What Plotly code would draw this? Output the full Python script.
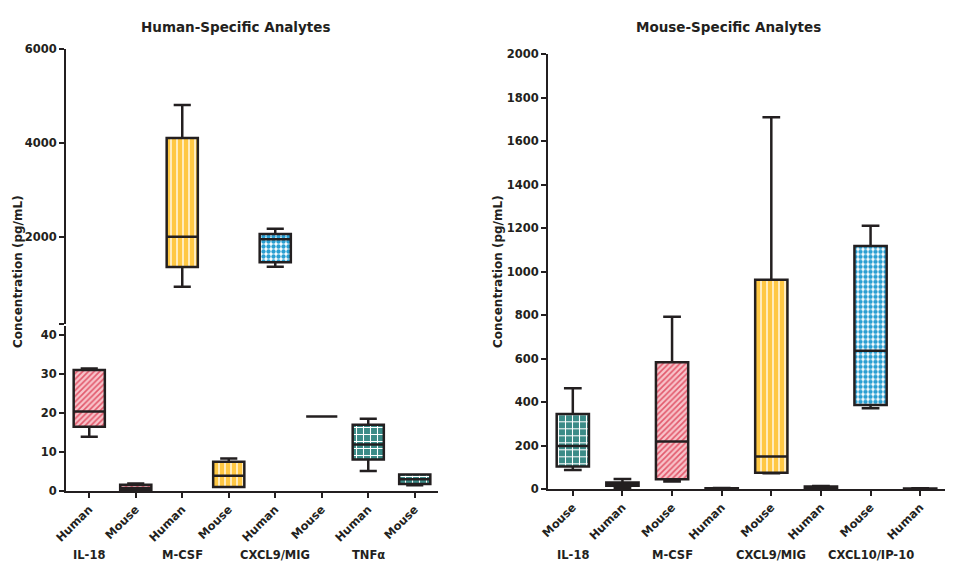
import plotly.graph_objects as go

# ---------------- data ----------------
left_labels = ["Human", "Mouse", "Human", "Mouse", "Human", "Mouse", "Human", "Mouse"]
left_analytes = ["IL-18", "IL-18", "M-CSF", "M-CSF", "CXCL9/MIG", "CXCL9/MIG", "TNFα", "TNFα"]
left_low = [13.9, 0.2, 943, 1.0, 1368, 19.1, 5.1, 1.5]
left_q1 = [16.5, 0.3, 1362, 1.0, 1462, 19.1, 8.1, 1.8]
left_med = [20.4, 0.8, 2007, 3.9, 1950, 19.1, 11.9, 3.0]
left_q3 = [31.0, 1.6, 4106, 7.5, 2064, 19.1, 17.0, 4.2]
left_high = [31.4, 1.9, 4809, 8.3, 2177, 19.1, 18.5, 4.2]
left_on_top = [False, False, True, False, True, False, False, False]

right_labels = ["Mouse", "Human", "Mouse", "Human", "Mouse", "Human", "Mouse", "Human"]
right_analytes = ["IL-18", "IL-18", "M-CSF", "M-CSF", "CXCL9/MIG", "CXCL9/MIG", "CXCL10/IP-10", "CXCL10/IP-10"]
right_low = [87, 5, 34, 1, 72, 4, 371, 1]
right_q1 = [103, 15, 45, 2, 75, 6, 386, 1.5]
right_med = [198, 22, 218, 3, 149, 9, 636, 2]
right_q3 = [345, 30, 583, 4, 963, 12, 1118, 2.5]
right_high = [463, 46, 793, 5, 1710, 14, 1211, 3]

left_groups = ["IL-18", "M-CSF", "CXCL9/MIG", "TNFα"]
right_groups = ["IL-18", "M-CSF", "CXCL9/MIG", "CXCL10/IP-10"]

left_style = {"IL-18": "pink", "M-CSF": "yellow", "CXCL9/MIG": "blue", "TNFα": "teal"}
right_style = {"IL-18": "teal", "M-CSF": "pink", "CXCL9/MIG": "yellow", "CXCL10/IP-10": "blue"}

PATTERNS = {
    "pink": dict(shape="/", bgcolor="#f8c3ca", fgcolor="#e2596c", size=4, solidity=0.4),
    "yellow": dict(shape="|", bgcolor="#ffc844", fgcolor="#ffffff", size=6, solidity=0.22),
    "blue": dict(shape=".", bgcolor="#ffffff", fgcolor="#2a9fd2", size=5, solidity=0.6),
    "teal": dict(shape="+", bgcolor="#3b8b87", fgcolor="#ffffff", size=7, solidity=0.28),
}

INK = "#231f20"
FONT = "DejaVu Sans"
BOXW_L = 0.67
BOXW_R = 0.65

fig = go.Figure()


def add_bars(idx, q1, q3, analytes, styles, xa, ya, width):
    for i in idx:
        p = PATTERNS[styles[analytes[i]]]
        fig.add_trace(go.Bar(
            x=[i], base=[q1[i]], y=[q3[i] - q1[i]],
            width=width, xaxis=xa, yaxis=ya, showlegend=False, hoverinfo="skip",
            marker=dict(
                color=p["bgcolor"], line=dict(width=0),
                pattern=dict(shape=p["shape"], fgcolor=p["fgcolor"], fgopacity=1,
                             size=p["size"], solidity=p["solidity"], fillmode="overlay"),
            ),
        ))


def add_boxes(idx, low, q1, med, q3, high, xa, ya, width):
    fig.add_trace(go.Box(
        x=idx,
        lowerfence=[low[i] for i in idx], q1=[q1[i] for i in idx],
        median=[med[i] for i in idx], q3=[q3[i] for i in idx],
        upperfence=[high[i] for i in idx],
        width=width, whiskerwidth=0.55, boxpoints=False,
        fillcolor="rgba(0,0,0,0)", line=dict(color=INK, width=2.5),
        xaxis=xa, yaxis=ya, showlegend=False, hoverinfo="skip",
    ))


n = len(left_labels)
left_bottom_idx = [i for i in range(n) if not left_on_top[i]]
left_top_idx = [i for i in range(n) if left_on_top[i]]
right_idx = list(range(len(right_labels)))

add_bars(left_bottom_idx, left_q1, left_q3, left_analytes, left_style, "x", "y", BOXW_L)
add_bars(left_top_idx, left_q1, left_q3, left_analytes, left_style, "x", "y3", BOXW_L)
add_bars(right_idx, right_q1, right_q3, right_analytes, right_style, "x2", "y2", BOXW_R)
add_boxes(left_bottom_idx, left_low, left_q1, left_med, left_q3, left_high, "x", "y", BOXW_L)
add_boxes(left_top_idx, left_low, left_q1, left_med, left_q3, left_high, "x", "y3", BOXW_L)
add_boxes(right_idx, right_low, right_q1, right_med, right_q3, right_high, "x2", "y2", BOXW_R)

W, H = 960, 580


def px_x(p):
    return p / W


def px_y(p):
    return 1 - p / H


tickfont = dict(family=FONT, size=11.5, color=INK, weight="bold")
common_axis = dict(showline=True, linecolor=INK, linewidth=2, ticks="outside",
                   tickcolor=INK, tickwidth=2, ticklen=5, showgrid=False,
                   zeroline=False, tickfont=tickfont, automargin=False)

fig.update_layout(
    width=W, height=H, margin=dict(l=0, r=0, t=0, b=0),
    paper_bgcolor="white", plot_bgcolor="white",
    barmode="overlay", boxmode="overlay", showlegend=False,
    font=dict(family=FONT, color=INK),
    xaxis=dict(common_axis, domain=[px_x(66), px_x(438)], range=[-0.5, 7.5],
               tickvals=list(range(n)), ticktext=left_labels, tickangle=-45, anchor="y"),
    yaxis=dict(common_axis, domain=[px_y(491), px_y(326)], range=[0, 42.3],
               tickvals=[0, 10, 20, 30, 40], anchor="x"),
    yaxis3=dict(common_axis, domain=[px_y(324), px_y(49)], range=[149, 6000],
                tickvals=[149, 2000, 4000, 6000], ticktext=["", "2000", "4000", "6000"],
                anchor="x"),
    xaxis2=dict(common_axis, domain=[px_x(548), px_x(945)], range=[-0.5, 7.5],
                tickvals=right_idx, ticktext=right_labels, tickangle=-45, anchor="y2"),
    yaxis2=dict(common_axis, domain=[px_y(489), px_y(54.3)], range=[0, 2000],
                tickvals=list(range(0, 2001, 200)), anchor="x2"),
)

bold = dict(family=FONT, color=INK, weight="bold")
ann = []
ann.append(dict(text="Human-Specific Analytes", x=px_x(235), y=px_y(27), xref="paper", yref="paper",
                xanchor="center", yanchor="middle", showarrow=False, font=dict(bold, size=13.5)))
ann.append(dict(text="Mouse-Specific Analytes", x=px_x(728), y=px_y(27), xref="paper", yref="paper",
                xanchor="center", yanchor="middle", showarrow=False, font=dict(bold, size=13.5)))
for xp in (18, 498):
    ann.append(dict(text="Concentration (pg/mL)", x=px_x(xp), y=px_y(272), xref="paper", yref="paper",
                    xanchor="center", yanchor="middle", textangle=-90, showarrow=False,
                    font=dict(bold, size=12)))
for k, g in enumerate(left_groups):
    ann.append(dict(text=g, x=2 * k, y=px_y(555), xref="x", yref="paper",
                    xanchor="center", yanchor="middle", showarrow=False, font=dict(bold, size=11.5)))
for k, g in enumerate(right_groups):
    ann.append(dict(text=g, x=2 * k, y=px_y(555), xref="x2", yref="paper",
                    xanchor="center", yanchor="middle", showarrow=False, font=dict(bold, size=11.5)))
fig.update_layout(annotations=ann)

fig.write_html("out.html")
